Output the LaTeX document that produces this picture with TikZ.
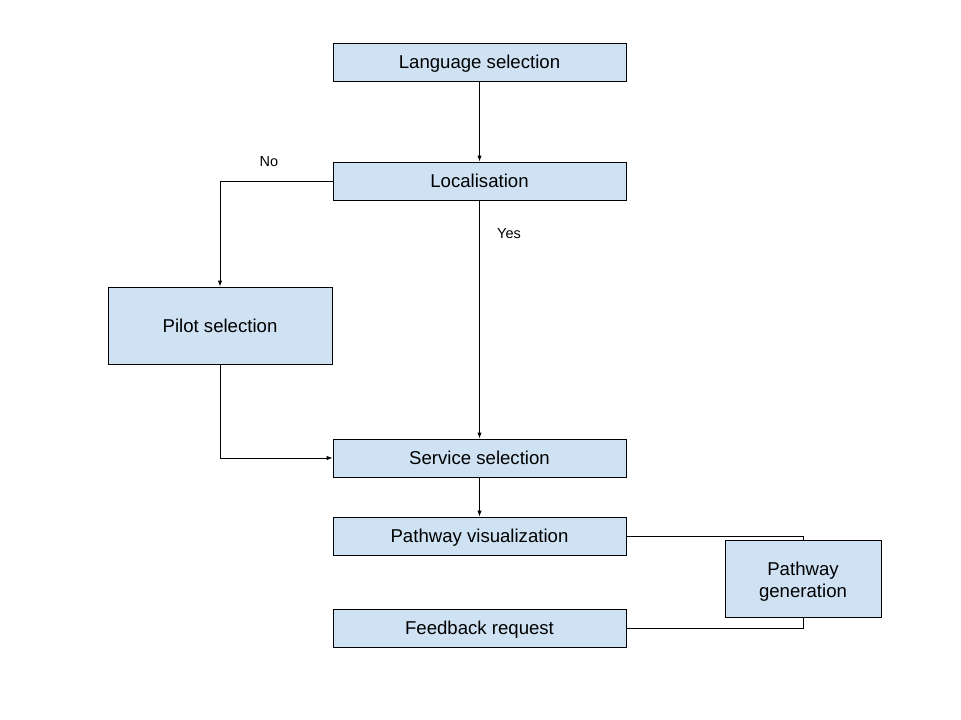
\documentclass[tikz,border=0pt]{standalone}
\usepackage{fontspec}
\setmainfont{Liberation Sans}
\usetikzlibrary{arrows.meta}
\definecolor{boxblue}{HTML}{CFE2F3}
\tikzset{
  box/.style={draw=black, line width=0.9pt, fill=boxblue, inner sep=0pt, font=\fontsize{18.6}{21.5}\selectfont, align=center},
  one/.style={text height=13.3pt, text depth=0pt},
  conn/.style={draw=black, line width=0.9pt},
  arr/.style={conn, -{Latex[length=6pt,width=4.5pt]}},
  lbl/.style={font=\fontsize{14.5}{17}\selectfont}
}
\begin{document}
\begin{tikzpicture}[x=1pt,y=-1pt]
\useasboundingbox (0,0) rectangle (961,720);
\node[box, one, minimum width=293pt, minimum height=38pt] (lang) at (479.5,62) {Language selection};
\node[box, one, minimum width=293pt, minimum height=38pt] (loc) at (479.5,181) {Localisation};
\node[box, one, minimum width=224pt, minimum height=77pt] (pilot) at (220,325.5) {Pilot selection};
\node[box, one, minimum width=293pt, minimum height=38pt] (serv) at (479.5,458) {Service selection};
\node[box, one, minimum width=293pt, minimum height=38pt] (pvis) at (479.5,536) {Pathway visualization};
\node[box, one, minimum width=293pt, minimum height=38pt] (feed) at (479.5,628) {Feedback request};
\coordinate (gtop) at (803,540);
\coordinate (gbot) at (803,617);
\draw[conn] (pvis.east) -| (gtop);
\draw[conn] (feed.east) -| (gbot);
\node[box, minimum width=156pt, minimum height=77pt] (pgen) at (803,578.5) {};
\node[font=\fontsize{18.6}{21.5}\selectfont, align=center, inner sep=0pt] (pgent) at ([yshift=-3pt]pgen.center) {Pathway\\generation};
\draw[arr] (lang.south) -- (loc.north);
\draw[arr] (loc.west) -| (pilot.north);
\draw[arr] (loc.south) -- (serv.north);
\draw[arr] (pilot.south) |- (serv.west);
\draw[arr] (serv.south) -- (pvis.north);
\node[lbl] (no) at (269,162) {No};
\node[lbl] (yes) at (509,234) {Yes};
\end{tikzpicture}
\end{document}
